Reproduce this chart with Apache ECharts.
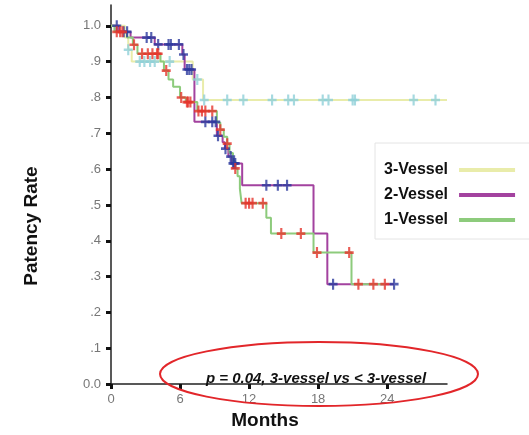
<!DOCTYPE html>
<html>
<head>
<meta charset="utf-8">
<style>
  html, body { margin: 0; padding: 0; background: #fff; }
  #chart { width: 529px; height: 435px; }
</style>
<script src="https://cdn.jsdelivr.net/npm/echarts@6/dist/echarts.min.js"></script>
</head>
<body>
<div id="chart"></div>
<script>
// Kaplan-Meier patency by number of grafted vessels (months, patency rate)
const seriesNames = ['3-Vessel', '2-Vessel', '1-Vessel'];

// 3-vessel: event times / rate after each step, censored times
const threeVesselTimes = [0, 1.2, 1.5, 1.8, 7.1, 8.0, 29.2];
const threeVesselRates = [1.0, 0.967, 0.933, 0.90, 0.85, 0.793, 0.793];
const threeVesselCensored = [1.5, 2.5, 2.9, 3.4, 3.8, 5.1, 7.5, 8.1, 10.1, 11.5, 14.0, 15.4, 15.9,
  18.4, 18.9, 21.0, 21.2, 26.3, 28.2];

// 2-vessel
const twoVesselTimes = [0, 0.7, 1.7, 3.8, 6.2, 6.4, 7.25, 9.2, 9.7, 9.9, 10.2, 10.5, 11.4, 17.6, 18.8, 24.6];
const twoVesselRates = [1.0, 0.983, 0.967, 0.948, 0.92, 0.878, 0.732, 0.693, 0.675, 0.657, 0.635, 0.616,
  0.555, 0.42, 0.279, 0.279];
const twoVesselCensored = [0.5, 1.1, 1.4, 3.1, 3.5, 4.1, 5.0, 5.2, 5.9, 6.3, 6.6, 6.8, 7.0, 8.2, 8.8, 9.1,
  9.3, 9.95, 10.4, 10.6, 10.7, 10.8, 13.5, 14.5, 15.3, 19.3, 24.6];

// 1-vessel
const oneVesselTimes = [0, 0.3, 1.4, 1.9, 2.3, 4.3, 4.6, 5.0, 5.4, 6.0, 6.5, 7.5, 9.2, 9.5, 9.8, 10.1,
  10.3, 10.6, 10.8, 11.0, 11.2, 11.35, 13.5, 13.9, 17.6, 20.9, 23.8];
const oneVesselRates = [1.0, 0.983, 0.967, 0.947, 0.922, 0.90, 0.875, 0.85, 0.83, 0.80, 0.787, 0.762,
  0.73, 0.71, 0.69, 0.671, 0.645, 0.622, 0.602, 0.58, 0.545, 0.505, 0.464, 0.42, 0.367, 0.279, 0.279];
const oneVesselCensored = [0.5, 0.8, 1.0, 2.0, 2.7, 3.2, 3.6, 4.0, 4.1, 4.8, 6.1, 6.6, 6.7, 6.9, 7.6,
  7.9, 8.2, 8.8, 9.5, 10.1, 10.8, 11.7, 12.0, 12.3, 13.2, 14.8, 16.5, 17.9, 20.7, 21.5, 22.8, 23.8];

// axis ticks
const xTicks = [0, 6, 12, 18, 24];
const yTicks = [0, 0.1, 0.2, 0.3, 0.4, 0.5, 0.6, 0.7, 0.8, 0.9, 1.0];

const lineColors = ['#e9ecaa', '#a3429f', '#8dcb7c'];
const censorColors = ['#8fd0d8', '#2c3a9e', '#e5342c'];

// plus-shaped marker for censored observations
const plusPath = 'path://M3.8,0h2.4v3.8h3.8v2.4h-3.8v3.8h-2.4v-3.8h-3.8v-2.4h3.8z';

function stepData(times, rates) {
  return times.map((t, i) => [t, rates[i]]);
}
// rate of the curve at time t (value after any step at t)
function rateAt(times, rates, t) {
  let r = rates[0];
  for (let i = 0; i < times.length; i++) {
    if (times[i] <= t) r = rates[i];
  }
  return r;
}
function censorData(times, rates, censored) {
  return censored.map(t => [t, rateAt(times, rates, t)]);
}

const groups = [
  [threeVesselTimes, threeVesselRates, threeVesselCensored],
  [twoVesselTimes, twoVesselRates, twoVesselCensored],
  [oneVesselTimes, oneVesselRates, oneVesselCensored]
];

const series = [];
groups.forEach((g, i) => {
  series.push({
    name: seriesNames[i],
    type: 'line',
    step: 'end',
    data: stepData(g[0], g[1]),
    showSymbol: false,
    lineStyle: { width: 2, color: lineColors[i] },
    itemStyle: { color: lineColors[i] },
    z: 2 + i,
    silent: true
  });
});
groups.forEach((g, i) => {
  series.push({
    name: seriesNames[i] + ' censored',
    type: 'scatter',
    data: censorData(g[0], g[1], g[2]),
    symbol: plusPath,
    symbolSize: [9, 11],
    itemStyle: { color: censorColors[i] },
    z: 6 + i,
    silent: true
  });
});

const chart = echarts.init(document.getElementById('chart'), null, { renderer: 'canvas' });
chart.setOption({
  animation: false,
  backgroundColor: '#fff',
  grid: { left: 111, right: 82, top: 5, bottom: 47, containLabel: false },
  xAxis: {
    type: 'value',
    min: 0,
    max: 29.2,
    name: 'Months',
    nameLocation: 'middle',
    nameGap: 24,
    nameTextStyle: {
      fontFamily: 'Liberation Sans, Arial', fontWeight: 'bold', fontSize: 19, color: '#111',
      padding: [0, 28, 0, 0]
    },
    splitLine: { show: false },
    axisLine: { show: true, lineStyle: { color: '#222', width: 1.5 } },
    axisTick: {
      show: true, inside: false, length: 5, customValues: xTicks,
      lineStyle: { color: '#111', width: 3 }
    },
    axisLabel: {
      customValues: xTicks, margin: 9,
      fontFamily: 'Liberation Sans, Arial', fontSize: 13, color: '#777'
    }
  },
  yAxis: {
    type: 'value',
    min: 0,
    max: 1.058,
    name: 'Patency Rate',
    nameLocation: 'middle',
    nameGap: 70,
    nameTextStyle: {
      fontFamily: 'Liberation Sans, Arial', fontWeight: 'bold', fontSize: 19, color: '#111',
      padding: [0, 63, 0, 0]
    },
    splitLine: { show: false },
    axisLine: { show: true, onZero: false, lineStyle: { color: '#222', width: 1.5 } },
    axisTick: {
      show: true, inside: false, length: 5, customValues: yTicks,
      lineStyle: { color: '#111', width: 3 }
    },
    axisLabel: {
      customValues: yTicks, margin: 10,
      fontFamily: 'Liberation Sans, Arial', fontSize: 13, color: '#777',
      formatter: v => {
        if (Math.abs(v) < 1e-9) return '0.0';
        if (Math.abs(v - 1) < 1e-9) return '1.0';
        return '.' + Math.round(v * 10);
      }
    }
  },
  legend: {
    data: seriesNames,
    orient: 'vertical',
    left: 375,
    top: 143,
    align: 'right',
    icon: 'rect',
    itemWidth: 56,
    itemHeight: 4,
    itemGap: 9,
    padding: [19, 22, 11, 9],
    backgroundColor: '#fff',
    borderColor: '#e4e4e4',
    borderWidth: 1,
    selectedMode: false,
    textStyle: {
      fontFamily: 'Liberation Sans, Arial', fontWeight: 'bold', fontSize: 16, color: '#111',
      lineHeight: 16, padding: [0, 6, 0, 0]
    }
  },
  graphic: [
    {
      type: 'ellipse',
      shape: { cx: 319, cy: 374, rx: 159, ry: 32 },
      style: { fill: 'none', stroke: '#e2262a', lineWidth: 2 },
      z: 20
    },
    {
      type: 'text',
      x: 316, y: 379,
      style: {
        text: 'p = 0.04, 3-vessel vs < 3-vessel',
        fontFamily: 'Liberation Sans, Arial', fontWeight: 'bold', fontStyle: 'italic',
        fontSize: 15, fill: '#111', align: 'center', verticalAlign: 'middle'
      },
      z: 20
    }
  ],
  series: series
});
</script>
</body>
</html>
